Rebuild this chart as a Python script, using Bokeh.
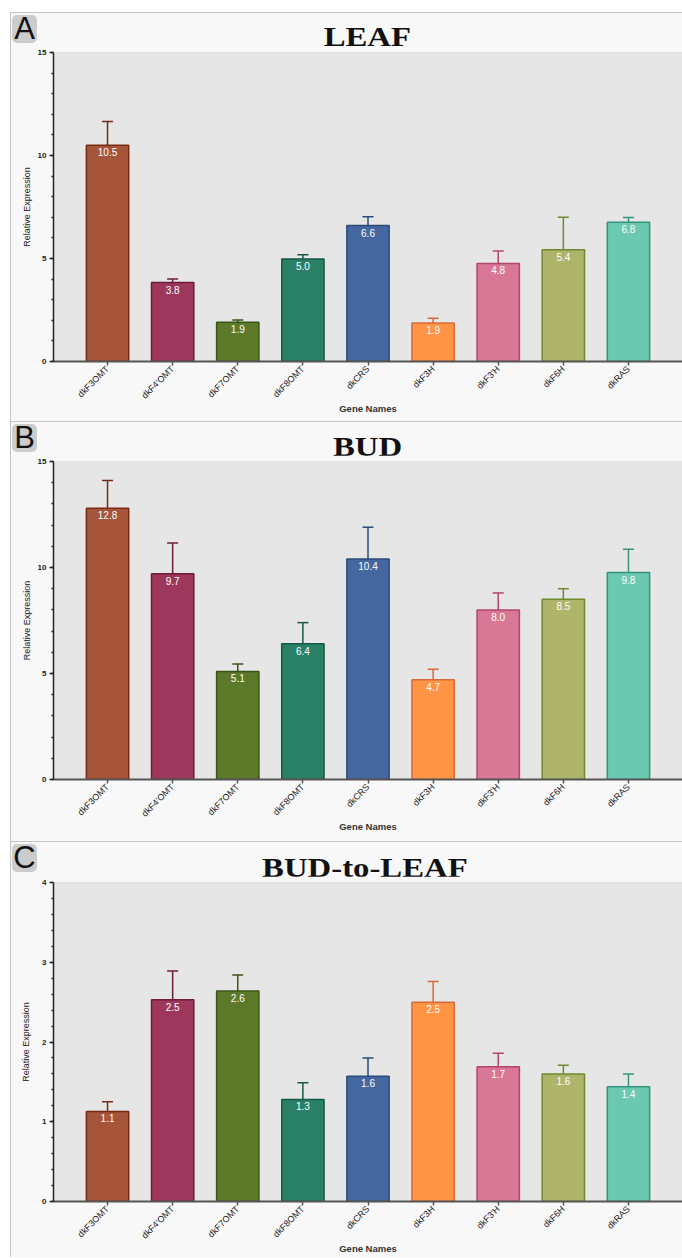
import math
from bokeh.plotting import figure
from bokeh.models import ColumnDataSource, FactorRange, Range1d, SingleIntervalTicker, Span, Div
from bokeh.layouts import column
from bokeh.embed import file_html
from bokeh.resources import INLINE
from bokeh.core.properties import value

genes = ["dkF3OMT", "dkF4'OMT", "dkF7OMT", "dkF8OMT", "dkCRS", "dkF3H", "dkF3'H", "dkF6H", "dkRAS"]
fill_colors = ["#a6543a", "#9e375c", "#5c7929", "#2b8068", "#43679e", "#ff9444", "#d97896", "#aeb56a", "#6bc8b1"]
line_colors = ["#7a2a12", "#6e1c3e", "#3b5418", "#16584a", "#2c4b7c", "#d96a3c", "#b2456a", "#6e8a2c", "#34957c"]

leaf_mean = [10.5, 3.83, 1.9, 4.98, 6.6, 1.87, 4.76, 5.42, 6.76]
leaf_err = [1.15, 0.17, 0.12, 0.2, 0.43, 0.23, 0.61, 1.58, 0.23]
bud_mean = [12.8, 9.7, 5.1, 6.4, 10.4, 4.7, 8.0, 8.5, 9.76]
bud_err = [1.3, 1.45, 0.35, 1.0, 1.5, 0.5, 0.8, 0.5, 1.1]
ratio_mean = [1.13, 2.53, 2.64, 1.28, 1.57, 2.5, 1.69, 1.6, 1.44]
ratio_err = [0.12, 0.36, 0.2, 0.21, 0.23, 0.26, 0.17, 0.11, 0.16]

FONT = "Liberation Sans"
W = 671


def header(letter, title, height, left, title_top):
    html = (
        '<div style="position:relative;width:%dpx;height:%dpx;border-top:1px solid #c4c4c4;'
        'background:#f8f8f8;">'
        '<div style="position:absolute;left:1px;top:2px;width:25px;height:28px;background:#cccccc;'
        'border-radius:5px;font-family:\'Liberation Sans\';font-size:31px;line-height:28px;'
        'text-align:center;color:#111111;">%s</div>'
        '<div style="position:absolute;left:%dpx;right:0px;top:%dpx;text-align:center;'
        'font-family:\'Liberation Serif\';font-weight:bold;font-size:28px;line-height:28px;'
        'color:#111111;"><span style="display:inline-block;transform:scaleX(1.17);">%s</span></div>'
        '</div>'
    ) % (W, height - 1, letter, left, title_top, title)
    return Div(text=html, width=W, height=height, margin=0,
               styles={"background-color": "#f8f8f8"})


def make_panel(means, errs, ymax, interval, height, bottom, left, ylabel_standoff, frame_top=6):
    src = ColumnDataSource(dict(
        gene=genes, mean=means, upper=[m + e for m, e in zip(means, errs)],
        fill=fill_colors, line=line_colors, label=["%.1f" % m for m in means]))
    p = figure(x_range=FactorRange(*genes, range_padding=0.0733), y_range=Range1d(0, ymax),
               width=W, height=height, output_backend="svg", toolbar_location=None,
               min_border_top=frame_top, min_border_bottom=bottom, min_border_left=left,
               min_border_right=0, min_border=0, background_fill_color="#e6e6e6",
               border_fill_color="#f8f8f8", outline_line_color=None, margin=0)
    p.xgrid.grid_line_color = None
    p.ygrid.grid_line_color = None
    p.add_layout(Span(location=ymax, dimension="width", line_color="#d0d0d0", line_width=1))

    p.vbar(x="gene", top="mean", width=0.65, source=src, fill_color="fill",
           line_color="line", line_width=1.5)
    p.segment(x0="gene", y0="mean", x1="gene", y1="upper", source=src,
              line_color="line", line_width=1.5)
    p.scatter(x="gene", y="upper", marker="dash", size=11, source=src,
              line_color="line", line_width=1.5)
    p.text(x="gene", y="mean", text="label", source=src, text_color="white",
           text_font=value(FONT), text_font_size="10px", text_align="center",
           text_baseline="top", y_offset=3)

    ya = p.yaxis[0]
    ya.ticker = SingleIntervalTicker(interval=interval, num_minor_ticks=5)
    ya.axis_line_color = "#222222"
    ya.axis_line_width = 1.5
    ya.major_tick_line_color = "#222222"
    ya.major_tick_line_width = 1.5
    ya.major_tick_out = 4
    ya.major_tick_in = 0
    ya.minor_tick_line_color = "#222222"
    ya.minor_tick_line_width = 1.5
    ya.minor_tick_out = 2
    ya.minor_tick_in = 0
    ya.major_label_text_font = FONT
    ya.major_label_text_font_size = "8px"
    ya.major_label_text_font_style = "bold"
    ya.major_label_text_color = "#222222"
    ya.major_label_standoff = 3
    ya.axis_label = "Relative Expression"
    ya.axis_label_text_font = FONT
    ya.axis_label_text_font_size = "9px"
    ya.axis_label_text_font_style = "normal"
    ya.axis_label_text_color = "#222222"
    ya.axis_label_standoff = ylabel_standoff

    xa = p.xaxis[0]
    xa.axis_line_color = "#555555"
    xa.axis_line_width = 2
    xa.major_tick_line_color = "#555555"
    xa.major_tick_line_width = 1.5
    xa.major_tick_out = 4
    xa.major_tick_in = 0
    xa.minor_tick_line_color = None
    xa.major_label_orientation = math.pi / 4
    xa.major_label_text_font = FONT
    xa.major_label_text_font_size = "9px"
    xa.major_label_text_color = "#222222"
    xa.major_label_standoff = 2
    xa.axis_label = "Gene Names"
    xa.axis_label_text_font = FONT
    xa.axis_label_text_font_size = "9.5px"
    xa.axis_label_text_font_style = "bold"
    xa.axis_label_text_color = "#333333"
    xa.axis_label_standoff = -4
    return p


hA = header("A", "LEAF", 34, 42, 10)
pA = make_panel(leaf_mean, leaf_err, 15, 5, 375, 60, 42, 3)
hB = header("B", "BUD", 34, 42, 11)
pB = make_panel(bud_mean, bud_err, 15, 5, 386, 62, 42, 3)
hC = header("C", "BUD-to-LEAF", 35, 36, 12)
pC = make_panel(ratio_mean, ratio_err, 4, 1, 381, 56, 20, 8)

layout = column(hA, pA, hB, pB, hC, pC, spacing=0, margin=(12, 0, 0, 10),
                styles={"border-left": "1px solid #c4c4c4", "background-color": "#f8f8f8"})

with open("out.html", "w") as f:
    f.write(file_html(layout, INLINE))
